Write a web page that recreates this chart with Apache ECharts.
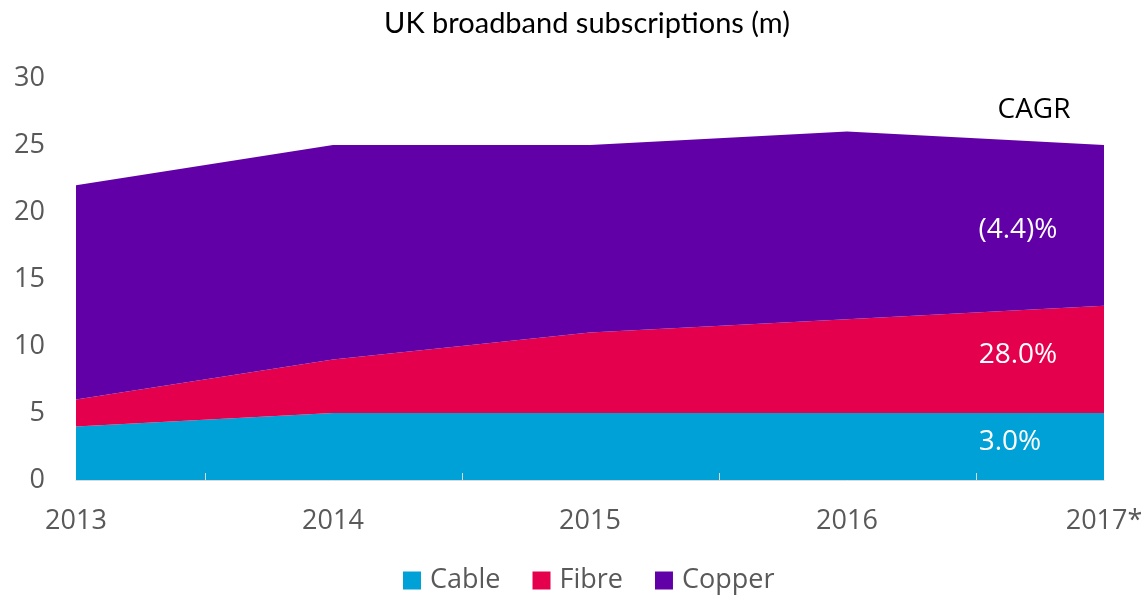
<!DOCTYPE html>
<html>
<head>
<meta charset="utf-8">
<script src="https://cdn.jsdelivr.net/npm/echarts@6/dist/echarts.min.js"></script>
<style>
  html, body { margin: 0; padding: 0; background: #fff; }
  #chart { width: 1146px; height: 601px; }
</style>
</head>
<body>
<div id="chart"></div>
<script>
const years = ['2013', '2014', '2015', '2016', '2017*'];
const cable = [4, 5, 5, 5, 5];
const fibre = [2, 4, 6, 7, 8];
const copper = [16, 16, 14, 14, 12];
const cagrLabels = ['(4.4)%', '28.0%', '3.0%'];

const colors = { cable: '#00A1D6', fibre: '#E5004E', copper: '#6200A7' };
const labelFont = '"Open Sans", sans-serif';

const chart = echarts.init(document.getElementById('chart'));

function areaSeries(name, data, color) {
    return {
        name, type: 'line', stack: 'total', data,
        symbol: 'none',
        lineStyle: { width: 0 },
        areaStyle: { color, opacity: 1 },
        itemStyle: { color },
        emphasis: { disabled: true }
    };
}

const txt = (text, x, y, fill) => ({
    type: 'text', x, y, z: 100,
    style: { text, fill, fontFamily: labelFont, fontSize: 28, align: 'center', verticalAlign: 'middle' }
});

chart.setOption({
    animation: false,
    title: {
        text: 'UK broadband subscriptions (m)',
        left: 582, top: 4, textAlign: 'center',
        textStyle: { fontFamily: 'Lato, sans-serif', fontWeight: 'normal', fontSize: 29, color: '#000' }
    },
    legend: {
        bottom: 2, left: 398,
        itemWidth: 18, itemHeight: 18, itemGap: 32,
        icon: 'rect',
        textStyle: { fontFamily: labelFont, fontSize: 27, color: '#595959', padding: [0, 0, 0, 4] },
        data: ['Cable', 'Fibre', 'Copper']
    },
    grid: [
        { left: 76, right: 42, top: 78, bottom: 121 },
        // helper grid so the x ticks sit between the year points
        { left: 205, right: 170, top: 78, bottom: 121 }
    ],
    xAxis: [{
        type: 'category', data: years, boundaryGap: false, z: 10,
        axisLine: { lineStyle: { color: '#d9d9d9', width: 1 } },
        axisTick: { show: false },
        axisLabel: { fontFamily: labelFont, fontSize: 27, color: '#595959', margin: 28 }
    }, {
        gridIndex: 1, type: 'category', data: ['a', 'b', 'c'], boundaryGap: true, z: 10,
        axisLine: { show: false },
        axisTick: { show: true, inside: true, length: 7, lineStyle: { color: '#d9d9d9', width: 1 } },
        axisLabel: { show: false }
    }],
    yAxis: [{
        type: 'value', min: 0, max: 30, interval: 5,
        splitLine: { show: false },
        axisLine: { show: false },
        axisTick: { show: false },
        axisLabel: { fontFamily: labelFont, fontSize: 27, color: '#595959', margin: 31 }
    }, {
        gridIndex: 1, type: 'value', min: 0, max: 30,
        axisLine: { show: false }, axisTick: { show: false },
        axisLabel: { show: false }, splitLine: { show: false }
    }],
    series: [
        areaSeries('Cable', cable, colors.cable),
        areaSeries('Fibre', fibre, colors.fibre),
        areaSeries('Copper', copper, colors.copper),
        { type: 'line', xAxisIndex: 1, yAxisIndex: 1, data: [], silent: true }
    ],
    graphic: [
        txt('CAGR', 1034, 110, '#000'),
        txt(cagrLabels[0], 1018, 230, '#fff'),
        txt(cagrLabels[1], 1018, 355, '#fff'),
        txt(cagrLabels[2], 1010, 442, '#fff')
    ]
});
</script>
</body>
</html>
